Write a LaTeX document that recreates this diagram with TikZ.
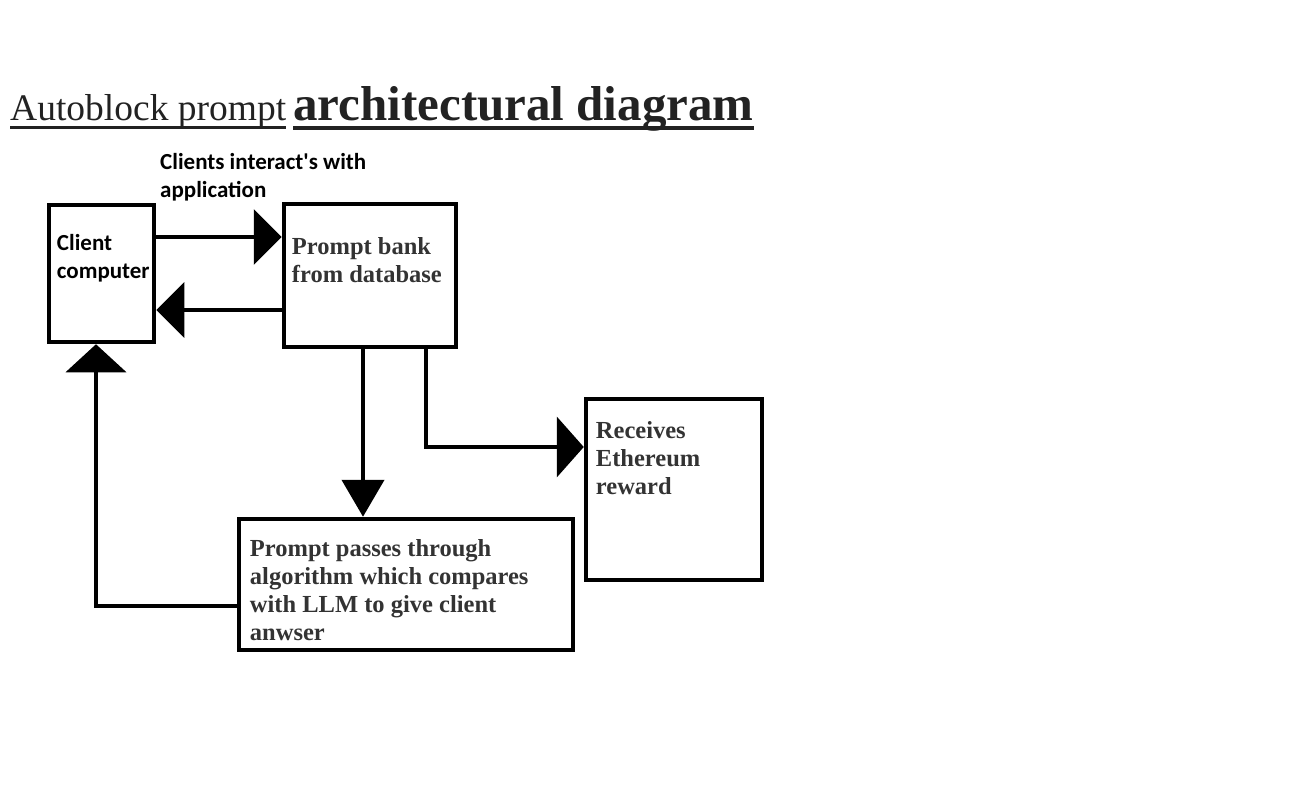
\documentclass[tikz,border=0pt]{standalone}
\usepackage{fontspec}
\setmainfont{Liberation Serif}
\newfontfamily\calib{Carlito}
\usetikzlibrary{arrows.meta}
\definecolor{txtgray}{HTML}{333333}
\definecolor{ttlgray}{HTML}{222222}
\tikzset{
  box/.style={draw=black, line width=4.5pt, rectangle, inner sep=0pt},
  conn/.style={draw=black, line width=4.5pt},
  arr/.style={conn, -{Triangle[length=28pt,width=55pt]}},
  boxtext/.style={anchor=north west, align=left, inner sep=0pt, text=txtgray, font=\fontsize{24.5}{28}\selectfont\bfseries},
  caltext/.style={anchor=north west, align=left, inner sep=0pt, text=black, font=\calib\fontsize{23}{28}\selectfont\bfseries},
  uline/.style={draw=ttlgray},
}
\begin{document}
\begin{tikzpicture}[x=1pt,y=-1pt]
\useasboundingbox (0,0) rectangle (1313,786);
% title
\node[anchor=base west, inner sep=0pt, text=ttlgray, font=\fontsize{37.5}{40}\selectfont] (t1) at (10,121) {Autoblock prompt};
\node[anchor=base west, inner sep=0pt, text=ttlgray, font=\fontsize{49}{50}\selectfont\bfseries] (t2) at (293,121) {architectural diagram};
\draw[uline, line width=2.2pt] ([yshift=-6.5pt]t1.base west) -- ([yshift=-6.5pt]t1.base east);
\draw[uline, line width=3.5pt] ([yshift=-7pt]t2.base west) -- ([yshift=-7pt]t2.base east);
% boxes
\node[box, minimum width=105pt, minimum height=137pt] (cc) at (101.5,273.5) {};
\node[box, minimum width=172pt, minimum height=143pt] (pb) at (370,275.5) {};
\node[box, minimum width=176pt, minimum height=181pt] (er) at (674,489.5) {};
\node[box, minimum width=334pt, minimum height=131pt] (pp) at (406,584.5) {};
% texts
\node[caltext] (lbl) at (160,153) {Clients interact's with\\application};
\node[caltext] (cct) at ([shift={(10,31)}]cc.north west) {Client\\computer};
\node[boxtext] (pbt) at ([shift={(10,36)}]pb.north west) {Prompt bank\\from database};
\node[boxtext] (ert) at ([shift={(12,25)}]er.north west) {Receives\\Ethereum\\reward};
\node[boxtext] (ppt) at ([shift={(13,23)}]pp.north west) {Prompt passes through\\algorithm which compares\\with LLM to give client\\anwser};
% connectors
\coordinate (a1) at (0,237);
\coordinate (a2) at (0,310);
\coordinate (a3) at (363,0);
\coordinate (a4) at (426,0);
\coordinate (a5) at (0,447);
\coordinate (a6) at (0,606);
\coordinate (a7) at (96,0);
\draw[arr] (cc.east |- a1) -- (pb.west |- a1);
\draw[arr] (pb.west |- a2) -- (cc.east |- a2);
\draw[conn, -{Triangle[length=37pt,width=42pt]}] (pb.south -| a3) -- (pp.north -| a3);
\draw[conn, -{Triangle[length=27pt,width=60pt]}] (pb.south -| a4) |- (er.west |- a5);
\draw[conn, -{Triangle[length=28pt,width=60pt]}] (pp.west |- a6) -| (cc.south -| a7);
\end{tikzpicture}
\end{document}
